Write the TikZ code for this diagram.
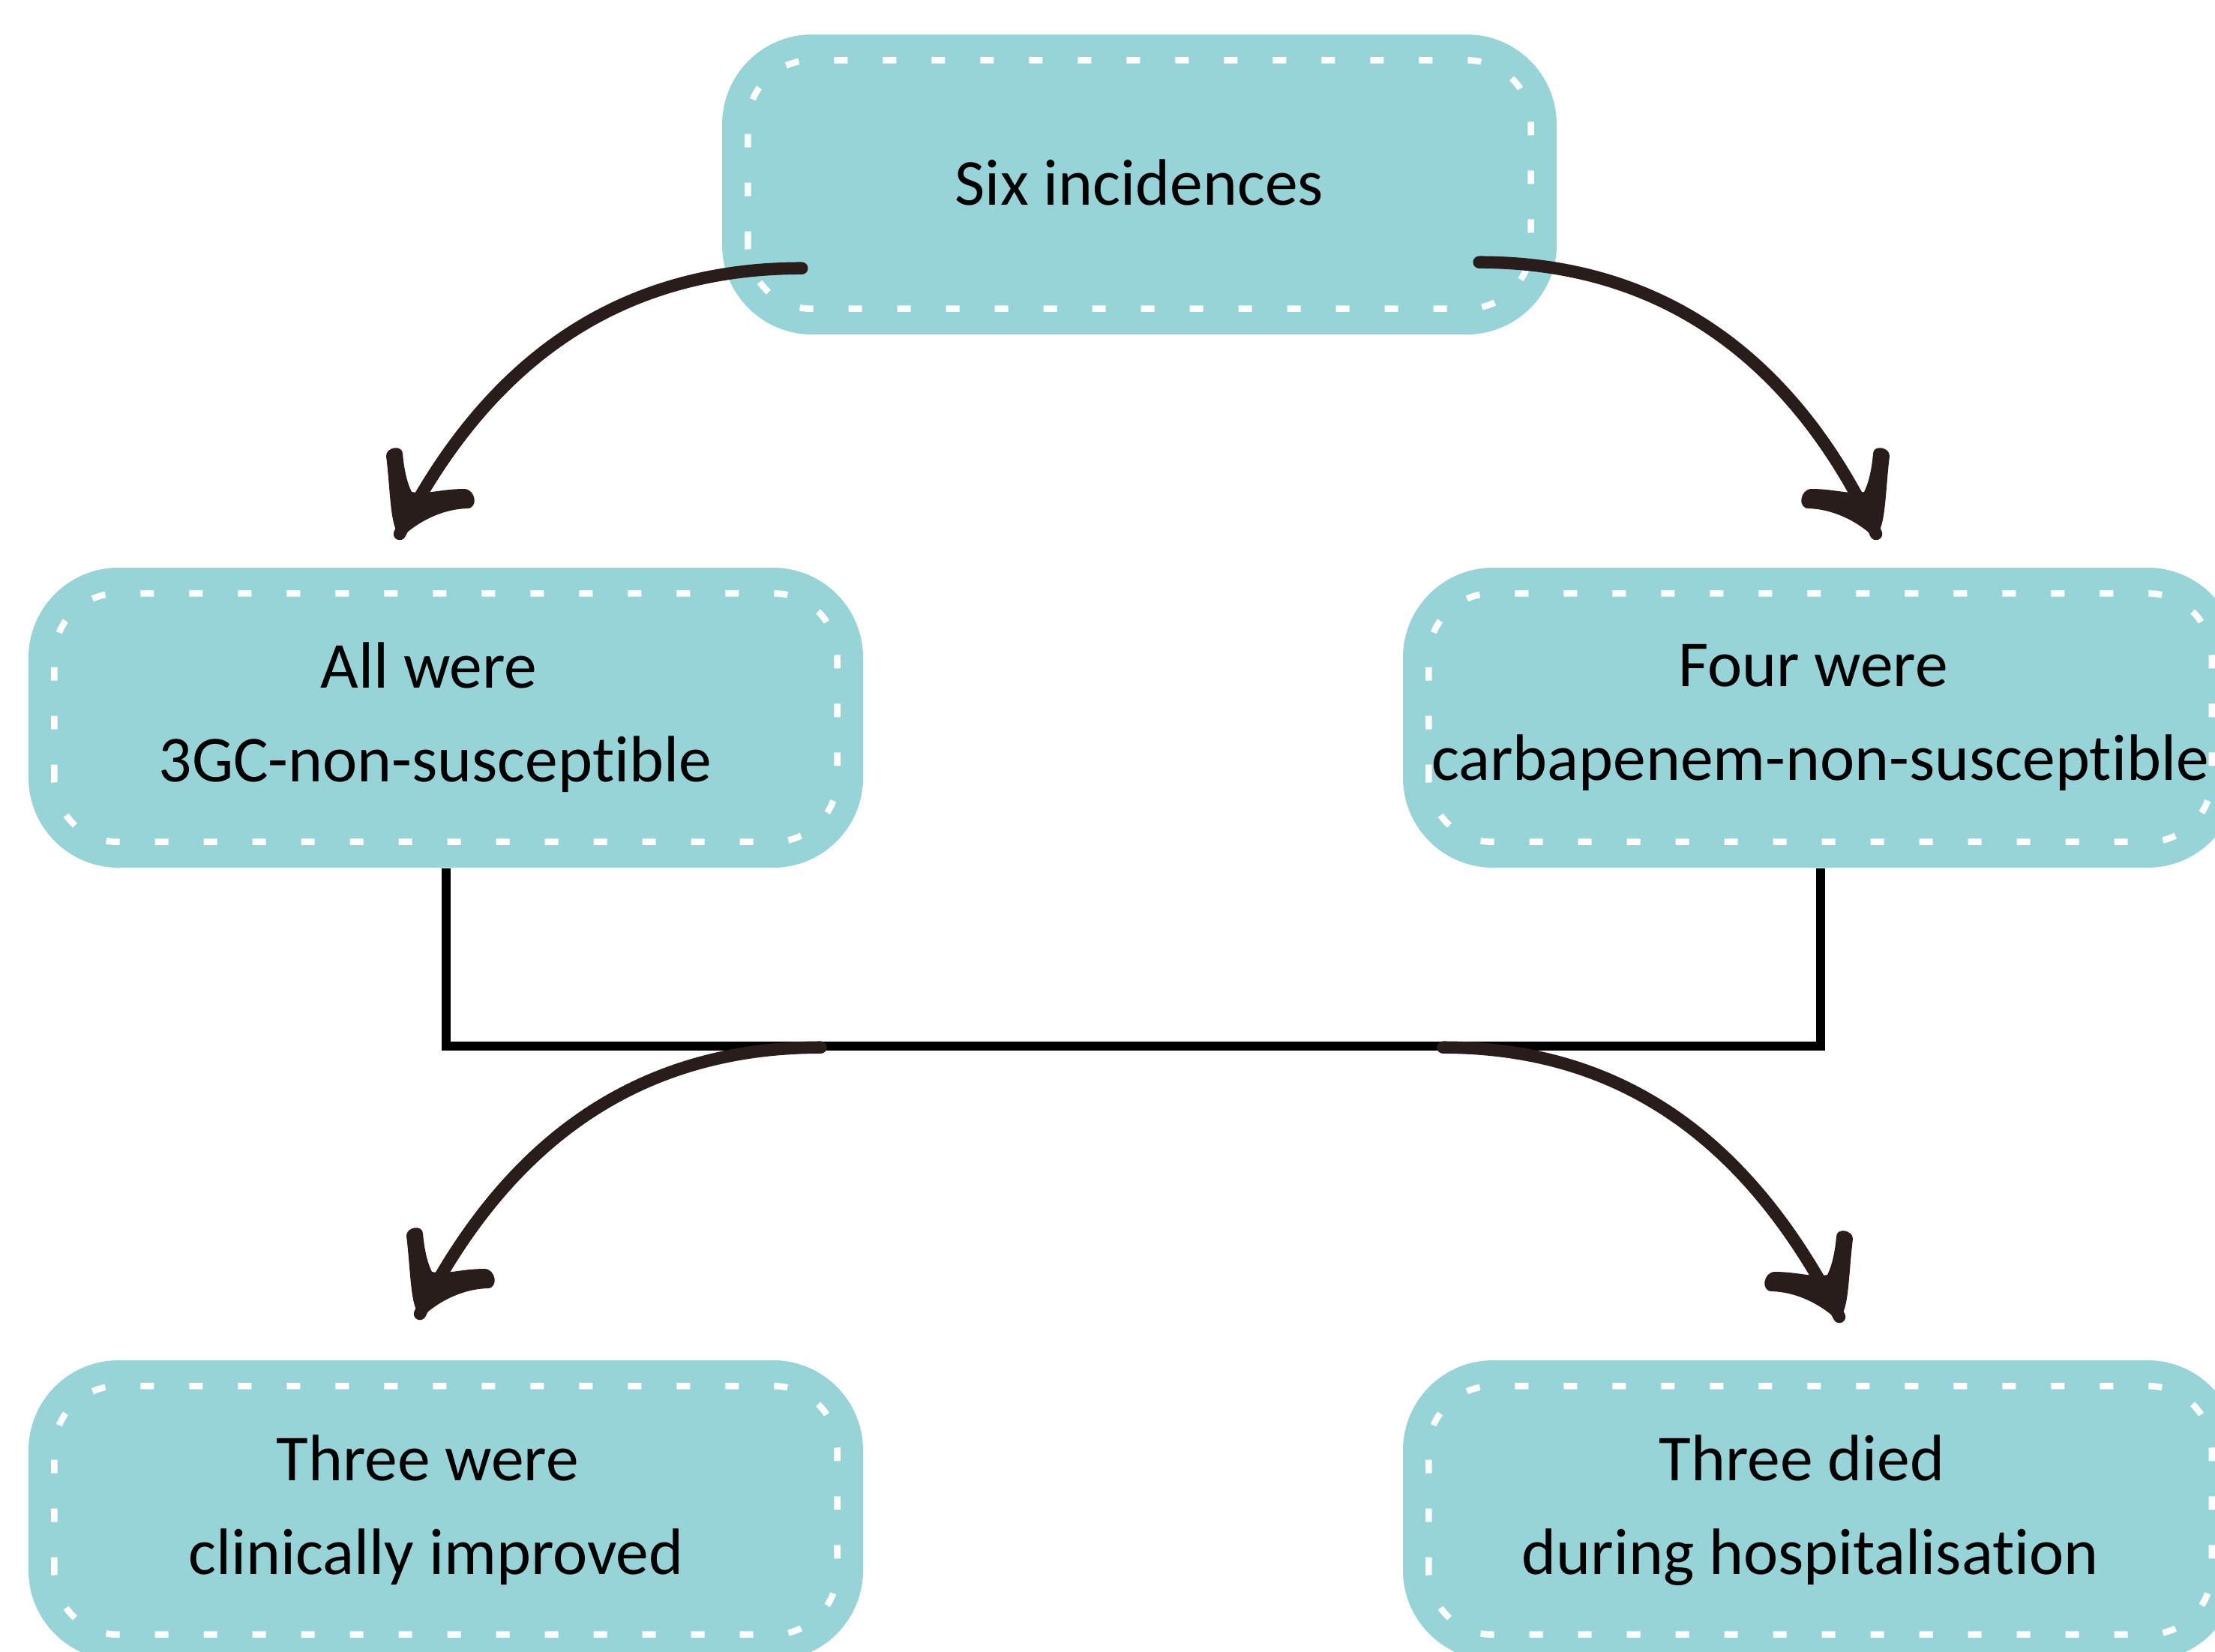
\documentclass[tikz,border=0pt]{standalone}
\usepackage{fontspec}
\setmainfont{Carlito}[Ligatures=NoCommon]
\definecolor{boxblue}{RGB}{151,212,216}
\definecolor{inkbrown}{RGB}{40,29,26}
\newcommand\pad[1]{\hspace*{#1}\null}

\begin{document}
\begin{tikzpicture}[
        panel/.style={fill=boxblue, rounded corners=1.2cm, minimum width=11.13cm,
            minimum height=4.0cm, inner sep=0pt, align=center,
            font=\fontsize{24.9}{35.6}\selectfont},
        stitch/.style={draw=white, line width=0.085cm, rounded corners=0.85cm,
            dash pattern=on 0.18cm off 0.47cm},
        brush/.style={draw=inkbrown, line width=0.165cm, line cap=round},
        bar/.style={draw=black, line width=0.12cm},
        pics/barbs/.style={code={
            \fill[inkbrown] (0,-0.02) .. controls (-0.13,0.1) and (-0.12,0.55) .. (-0.18,1.04)
                to[out=90,in=90,looseness=1.4] (0.04,1.07)
                .. controls (0.06,0.85) and (0.1,0.68) .. (0.16,0.56)
                .. controls (0.35,0.52) and (0.55,0.6) .. (0.86,0.6)
                to[out=0,in=0,looseness=1.5] (0.9,0.34)
                .. controls (0.6,0.33) and (0.3,0.2) .. (0.05,-0.02) -- cycle;
        }}
    ]
        \useasboundingbox (0,0) rectangle (29.54,-22.02);
        \clip (0,0) rectangle (29.54,-22.02);

        \node[panel] (top) at (15.195,-2.46) {\raisebox{0.06cm}{Six incidences}};
        \node[panel] (esbl) at (5.945,-9.57) {All were\pad{0.45cm}\\3GC-non-susceptible\pad{0.28cm}};
        \node[panel] (carb) at (24.275,-9.57) {Four were\pad{0.19cm}\\carbapenem-non-susceptible};
        \node[panel] (improved) at (5.945,-20.14) {Three were\pad{0.49cm}\\clinically improved\pad{0.26cm}};
        \node[panel] (died) at (24.275,-20.14) {Three died\pad{0.49cm}\\during hospitalisation\pad{0.26cm}};

        \foreach \n in {top,esbl,carb,improved,died}
            {
                \draw[stitch] ([shift={(0.35,0.35)}]\n.south west) rectangle ([shift={(-0.35,-0.35)}]\n.north east);
            }

        \path (esbl.south) ++(0,-2.37) coordinate (jl);
        \path (carb.south) ++(0,-2.37) coordinate (jr);
        \draw[bar] (esbl.south) -- (jl) -- (jr) -- (carb.south);

        \coordinate (s1) at ([shift={(1.07,0.89)}]top.south west);
        \coordinate (s2) at ([shift={(-1.04,0.97)}]top.south east);
        \coordinate (s3) at ([shift={(5.0,-0.02)}]jl);
        \coordinate (s4) at ([shift={(-5.03,-0.02)}]jr);
        \coordinate (t1) at (5.33,-7.12);
        \coordinate (t2) at (25.02,-7.12);
        \coordinate (t3) at (5.60,-17.52);
        \coordinate (t4) at (24.53,-17.56);

        \draw[brush] (s1) to[out=180,in=63] (t1);
        \draw[brush] (s2) to[out=0,in=115] (t2);
        \draw[brush] (s3) to[out=180,in=63] (t3);
        \draw[brush] (s4) to[out=0,in=117] (t4);
        \pic at (t1) {barbs};
        \pic[xscale=-1] at (t2) {barbs};
        \pic at (t3) {barbs};
        \pic[xscale=-1] at (t4) {barbs};
    \end{tikzpicture}
\end{document}
